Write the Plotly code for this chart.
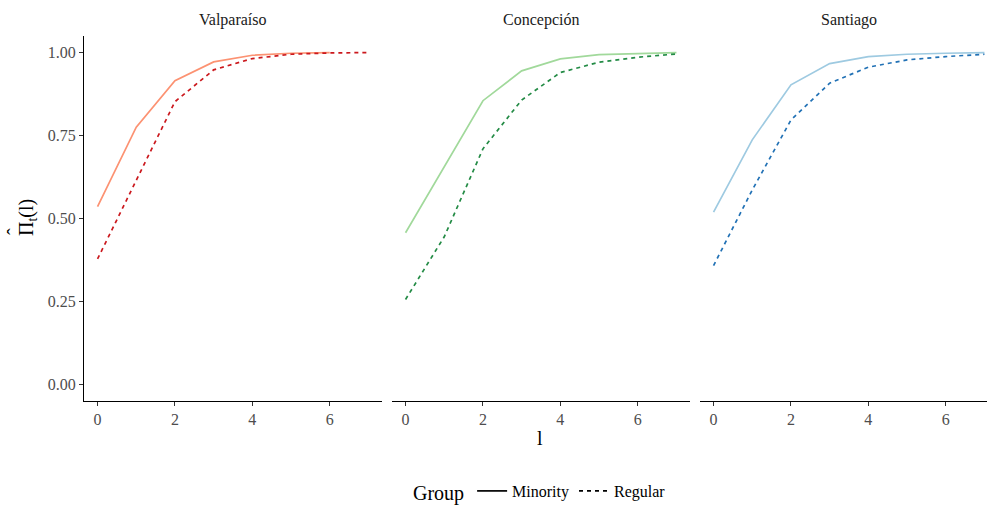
import plotly.graph_objects as go

W, H = 987, 506

regions = ["Valparaíso", "Concepción", "Santiago"]
lags_minority = {
    "Valparaíso": [0, 1, 2, 3, 4, 5, 6],
    "Concepción": [0, 1, 2, 3, 4, 5, 6, 7],
    "Santiago": [0, 1, 2, 3, 4, 5, 6, 7],
}
lags_regular = [0, 1, 2, 3, 4, 5, 6, 7]

valpo_minority = [0.536, 0.775, 0.915, 0.972, 0.992, 0.998, 1.000]
valpo_regular = [0.378, 0.615, 0.852, 0.948, 0.982, 0.995, 0.999, 1.000]
conce_minority = [0.457, 0.656, 0.855, 0.945, 0.981, 0.994, 0.997, 1.000]
conce_regular = [0.256, 0.445, 0.710, 0.857, 0.940, 0.971, 0.986, 0.996]
stgo_minority = [0.519, 0.737, 0.903, 0.967, 0.988, 0.995, 0.998, 1.000]
stgo_regular = [0.358, 0.586, 0.797, 0.908, 0.956, 0.978, 0.988, 0.995]

minority = {"Valparaíso": valpo_minority, "Concepción": conce_minority, "Santiago": stgo_minority}
regular = {"Valparaíso": valpo_regular, "Concepción": conce_regular, "Santiago": stgo_regular}

col_minority = {"Valparaíso": "#FC9272", "Concepción": "#A1D99B", "Santiago": "#9ECAE1"}
col_regular = {"Valparaíso": "#CB181D", "Concepción": "#238B45", "Santiago": "#2171B5"}

y_ticks = [0, 0.25, 0.5, 0.75, 1.0]
x_ticks = [0, 2, 4, 6]

FONT = "Liberation Serif"
TICK_SIZE = 16

# panel pixel geometry
panel_left = [84, 392, 700]
panel_w = 298
top_px, bottom_px = 36, 401
unit = panel_w / 7.7

fig = go.Figure()
layout = dict(
    width=W, height=H,
    margin=dict(l=0, r=0, t=0, b=0, autoexpand=False),
    paper_bgcolor="white", plot_bgcolor="white",
    font=dict(family=FONT, color="#4D4D4D", size=TICK_SIZE),
    showlegend=True,
)

annotations = []
for i, r in enumerate(regions):
    ax = "" if i == 0 else str(i + 1)
    xa, ya = "x" + ax, "y" + ax
    x0 = panel_left[i] / W
    x1 = min(panel_left[i] + panel_w, W) / W
    xmax = (min(panel_left[i] + panel_w, W) - panel_left[i]) / unit - 0.35
    layout["xaxis" + ax] = dict(
        domain=[x0, x1], anchor=ya, range=[-0.35, xmax], automargin=False,
        tickvals=x_ticks, showgrid=False, zeroline=False,
        showline=True, linecolor="black", linewidth=1.1,
        ticks="outside", ticklen=4, tickcolor="#333333", tickwidth=1.1,
        tickfont=dict(family=FONT, size=TICK_SIZE, color="#4D4D4D"),
    )
    layout["yaxis" + ax] = dict(
        domain=[1 - bottom_px / H, 1 - top_px / H], anchor=xa, automargin=False,
        range=[-0.05, 1.05], tickvals=y_ticks, tickformat=".2f",
        showgrid=False, zeroline=False,
        showline=(i == 0), linecolor="black", linewidth=1.1,
        ticks="outside" if i == 0 else "", ticklen=4, tickcolor="#333333", tickwidth=1.1,
        showticklabels=(i == 0),
        tickfont=dict(family=FONT, size=TICK_SIZE, color="#4D4D4D"),
    )
    fig.add_trace(go.Scatter(
        x=lags_minority[r], y=minority[r], mode="lines", xaxis=xa, yaxis=ya,
        line=dict(color=col_minority[r], width=1.7), showlegend=False,
    ))
    fig.add_trace(go.Scatter(
        x=lags_regular, y=regular[r], mode="lines", xaxis=xa, yaxis=ya,
        line=dict(color=col_regular[r], width=1.7, dash="4px,4px"), showlegend=False,
    ))
    annotations.append(dict(
        text=r, xref="paper", yref="paper",
        x=(panel_left[i] + panel_w / 2) / W, y=1 - 20 / H,
        xanchor="center", yanchor="middle", showarrow=False,
        font=dict(family=FONT, size=16, color="#1A1A1A"),
    ))

# legend entries
fig.add_trace(go.Scatter(x=[None], y=[None], mode="lines", name="Minority",
                         line=dict(color="black", width=1.7)))
fig.add_trace(go.Scatter(x=[None], y=[None], mode="lines", name="Regular",
                         line=dict(color="black", width=1.7, dash="4px,4px")))

annotations.append(dict(
    text="l", xref="paper", yref="paper", x=540 / W, y=1 - 438 / H,
    xanchor="center", yanchor="middle", showarrow=False,
    font=dict(family=FONT, size=20, color="black"),
))
annotations.append(dict(
    text="Π<sub>t</sub>(l)", xref="paper", yref="paper", x=28 / W, y=1 - 218 / H,
    xanchor="center", yanchor="middle", showarrow=False, textangle=-90,
    font=dict(family=FONT, size=20, color="black"),
))
# circumflex over the Π
annotations.append(dict(
    text="ˆ", xref="paper", yref="paper", x=15 / W, y=1 - 232 / H,
    xanchor="center", yanchor="middle", showarrow=False, textangle=-90,
    font=dict(family=FONT, size=20, color="black"),
))

layout["annotations"] = annotations
layout["legend"] = dict(
    orientation="h", x=541 / W, xanchor="center", y=1 - 492 / H, yanchor="middle",
    title=dict(text="Group", font=dict(family=FONT, size=20, color="black")),
    font=dict(family=FONT, size=16, color="black"),
    bgcolor="rgba(0,0,0,0)",
)
fig.update_layout(**layout)

fig.write_html("out.html")
